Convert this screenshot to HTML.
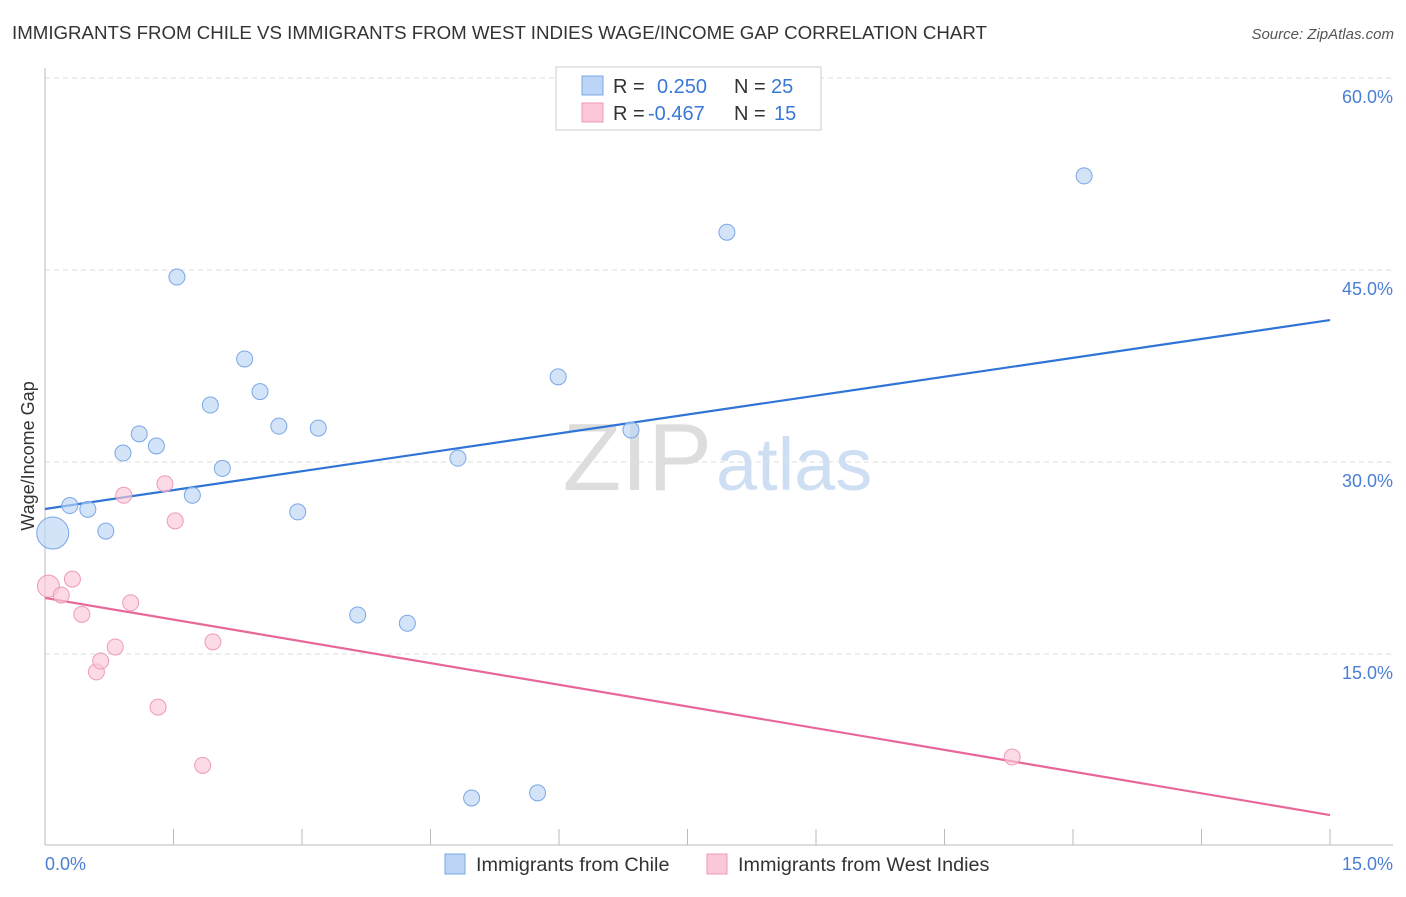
<!DOCTYPE html>
<html><head><meta charset="utf-8"><style>
body{margin:0;background:#fff;font-family:"Liberation Sans",sans-serif;}
svg text{font-family:"Liberation Sans",sans-serif;}
</style></head><body>
<svg width="1406" height="892">
<text x="12" y="39" font-size="18.7" fill="#333">IMMIGRANTS FROM CHILE VS IMMIGRANTS FROM WEST INDIES WAGE/INCOME GAP CORRELATION CHART</text>
<text x="1394" y="39" font-size="15" fill="#555" text-anchor="end" font-style="italic">Source: ZipAtlas.com</text>
<text x="712" y="490" font-size="96" fill="#ddd" text-anchor="end" font-family="Liberation Serif">ZIP</text>
<text x="716" y="490" font-size="74" fill="#cfdff3">atlas</text>
<g id="grid"></g>
<line x1="45" y1="68" x2="45" y2="845" stroke="#bbb"/>
<line x1="45" y1="845" x2="1393" y2="845" stroke="#bbb"/>
<g id="ticks"></g>
<text x="34" y="456" font-size="18" fill="#333" text-anchor="middle" transform="rotate(-90 34 456)">Wage/Income Gap</text>
<text x="45" y="870" font-size="18" fill="#4a7fd4">0.0%</text>
<text x="1393" y="870" font-size="18" fill="#4a7fd4" text-anchor="end">15.0%</text>
<g id="lines"></g>
<g id="points"></g>
<g>
<rect x="556" y="67" width="265" height="63" fill="#fff" stroke="#ccc"/>
<rect x="582" y="76" width="21" height="19" fill="#bcd4f5" stroke="#7aa7e6"/>
<text x="613" y="93" font-size="20" fill="#333">R = </text><text x="657" y="93" font-size="20" fill="#3a78d8">0.250</text>
<text x="734" y="93" font-size="20" fill="#333">N = </text><text x="771" y="93" font-size="20" fill="#3a78d8">25</text>
<rect x="582" y="103" width="21" height="19" fill="#fac8d8" stroke="#ee9ab6"/>
<text x="613" y="120" font-size="20" fill="#333">R = </text><text x="648" y="120" font-size="20" fill="#3a78d8">-0.467</text>
<text x="734" y="120" font-size="20" fill="#333">N = </text><text x="774" y="120" font-size="20" fill="#3a78d8">15</text>
</g>
<g>
<rect x="445" y="854" width="20" height="20" fill="#bcd4f5" stroke="#7aa7e6"/>
<text x="476" y="871" font-size="19.8" fill="#333">Immigrants from Chile</text></g>
<g>
<rect x="707" y="854" width="20" height="20" fill="#fac8d8" stroke="#ee9ab6"/>
<text x="738" y="871" font-size="19.8" fill="#333">Immigrants from West Indies</text></g>
</svg>
<script>
const yTicks=[15,30,45,60];
const yTickLabels=["15.0%","30.0%","45.0%","60.0%"];
const chileX=[0.09,0.29,0.50,0.71,0.91,1.10,1.30,1.54,1.72,1.93,2.07,2.33,2.51,2.73,2.95,3.19,3.65,4.23,4.82,4.98,5.75,5.99,6.84,7.96,12.13];
const chileY=[24.45,26.6,26.3,24.6,30.7,32.2,31.25,44.45,27.4,34.45,29.5,38.05,35.5,32.8,26.1,32.65,18.05,17.4,30.3,3.75,4.15,36.65,32.5,47.95,52.35];
const wiX=[0.04,0.19,0.32,0.43,0.60,0.65,0.82,0.92,1.00,1.32,1.40,1.52,1.84,1.96,11.29];
const wiY=[20.3,19.6,20.85,18.1,13.6,14.45,15.55,27.4,19.0,10.85,28.3,25.4,6.3,15.95,6.95];
const chileTrend=[26.33,41.09];
const wiTrend=[19.38,2.42];
const NS="http://www.w3.org/2000/svg";
const xs=v=>45+v/15*1285, ys=v=>846-v/15*192;
function mk(t,a,p){const e=document.createElementNS(NS,t);for(const k in a)e.setAttribute(k,a[k]);p.appendChild(e);return e;}
const g=document.getElementById('grid');
yTicks.forEach((t,i)=>{
 const l=mk('line',{x1:45,x2:1393,y1:ys(t),y2:ys(t),stroke:'#ddd','stroke-dasharray':'5,4'},g);
 
 
 const tx=mk('text',{x:1393,y:ys(t)+25,'font-size':18,fill:'#4a7fd4','text-anchor':'end'},g);
 tx.textContent=yTickLabels[i];
 
 
});
const tk=document.getElementById('ticks');
for(let i=1;i<=10;i++){const l=mk('line',{x1:xs(i*1.5),x2:xs(i*1.5),y1:829,y2:845,stroke:'#bbb'},tk);
 
 }
const ln=document.getElementById('lines');
const b=mk('line',{x1:xs(0),x2:xs(15),y1:ys(chileTrend[0]),y2:ys(chileTrend[1]),stroke:'#2f74d6','stroke-width':2.2},ln);


const p=mk('line',{x1:xs(0),x2:xs(15),y1:ys(wiTrend[0]),y2:ys(wiTrend[1]),stroke:'#e8679a','stroke-width':2.2},ln);


const pts=document.getElementById('points');
chileX.forEach((x,i)=>{const c=mk('circle',{cx:xs(x),cy:ys(chileY[i]),r:i==0?16:8,fill:'#bcd4f5','fill-opacity':0.65,stroke:'#7aa7e6'},pts);
 
 });
wiX.forEach((x,i)=>{const c=mk('circle',{cx:xs(x),cy:ys(wiY[i]),r:i==0?11:8,fill:'#fac8d8','fill-opacity':0.65,stroke:'#ee9ab6'},pts);
 
 });
</script>
</body></html>
